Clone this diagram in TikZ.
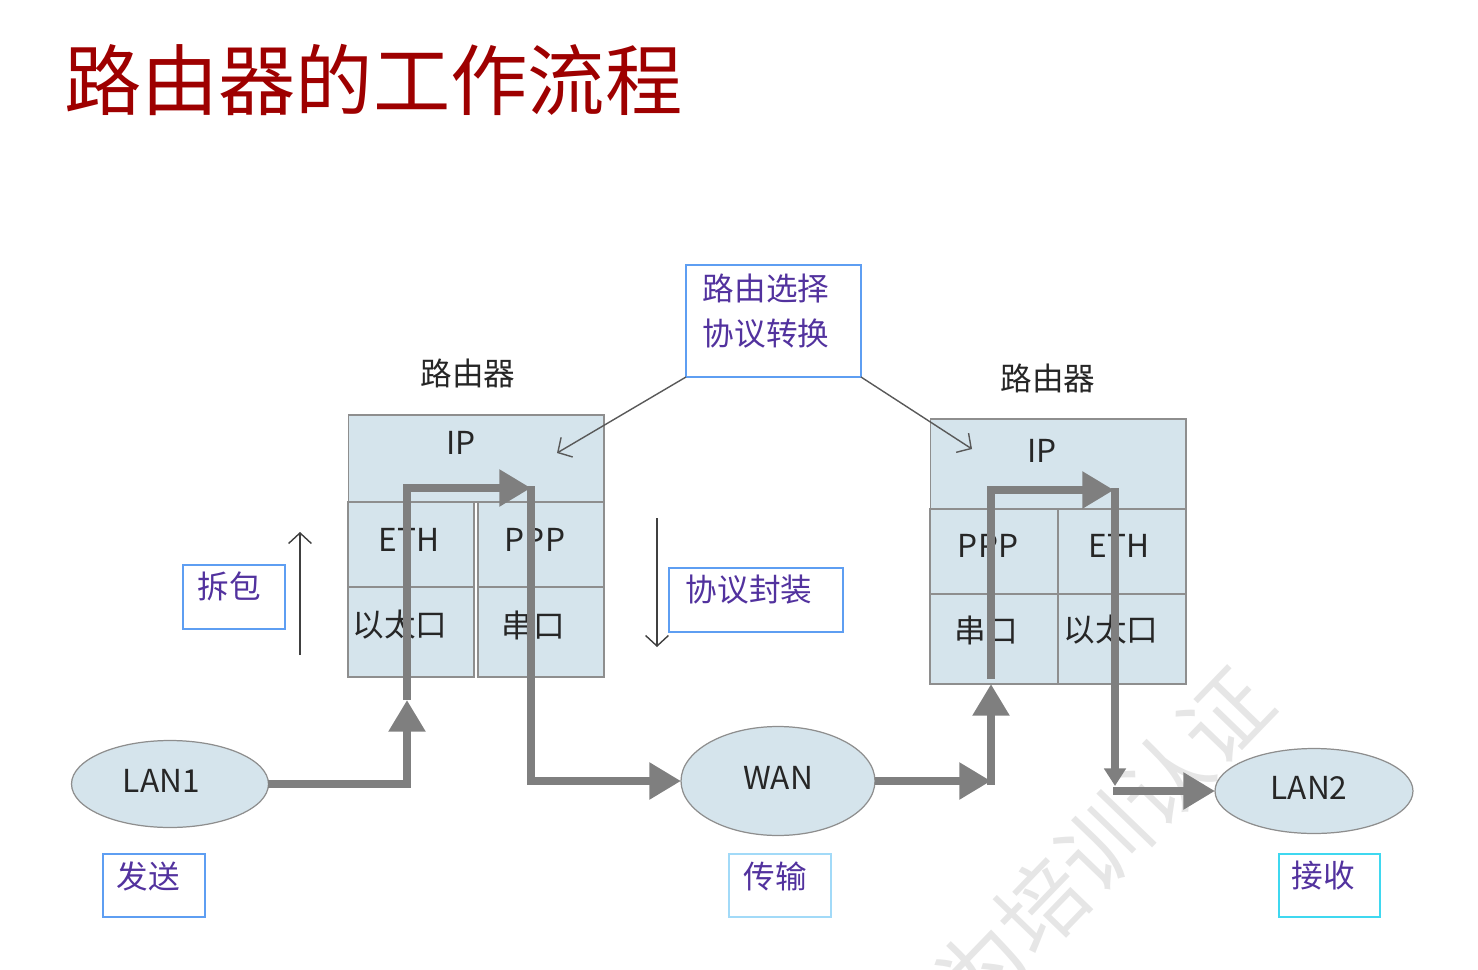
\documentclass[tikz,border=0pt]{standalone}
\usepackage{fontspec}
\setmainfont{Noto Sans CJK SC}
\usetikzlibrary{shapes.geometric,arrows.meta}
\definecolor{cellfill}{HTML}{D5E4EC}
\definecolor{cellline}{HTML}{8E8E8E}
\definecolor{flow}{HTML}{7F7F7F}
\definecolor{boxblue}{HTML}{5E9EF2}
\definecolor{boxcyanlight}{HTML}{A2DAF8}
\definecolor{boxcyan}{HTML}{3FD8F0}
\definecolor{purpletext}{HTML}{52329E}
\definecolor{titlered}{HTML}{9E0000}
\definecolor{bodytext}{HTML}{262626}
\definecolor{wm}{HTML}{E6E6E6}
\begin{document}
\begin{tikzpicture}[x=0.02cm,y=-0.02cm,
  every node/.style={inner sep=0pt,outer sep=0pt},
  cell/.style={draw=cellline,fill=cellfill,line width=0.6pt,rectangle},
  celltext/.style={text=bodytext,font=\fontsize{18}{22}\selectfont},
  lanshape/.style={ellipse,draw=cellline,fill=cellfill,line width=0.7pt,text=bodytext,font=\fontsize{18}{22}\selectfont},
  labelbox/.style={rectangle,draw=boxblue,line width=1pt,minimum width=2.04cm,minimum height=1.26cm},
  labeltext/.style={text=purpletext,font=\fontsize{18}{22}\selectfont},
  flowarrow/.style={draw=flow,line width=5.1pt,-{Triangle[length=18pt,width=20pt]}},
  flowline/.style={draw=flow,line width=5.1pt},
  flowsmall/.style={draw=flow,line width=5.1pt,-{Triangle[length=10pt,width=12pt]}},
  thinarrow/.style={draw=black!75,line width=0.8pt,-{Straight Barb[length=6pt,width=13pt]}},
]
\useasboundingbox (0,0) rectangle (1478,970);
\clip (0,0) rectangle (1478,970);

% watermark
\node[rotate=46,text=wm,font=\fontsize{50}{60}\selectfont] (watermark) at (1072,874) {华为培训认证};

% title
\node[anchor=west,text=titlered,font=\fontsize{44}{50}\selectfont] (title) at (64,80) {路由器的工作流程};

% left router
\node[cell,minimum width=5.12cm,minimum height=1.74cm] (ipL) at (476,458.5) {};
\node[cell,minimum width=2.52cm,minimum height=1.7cm] (ethL) at (411,544.5) {};
\node[cell,minimum width=2.52cm,minimum height=1.7cm] (pppL) at (541,544.5) {};
\node[cell,minimum width=2.52cm,minimum height=1.8cm] (portL) at (411,632) {};
\node[cell,minimum width=2.52cm,minimum height=1.8cm] (serL) at (541,632) {};
\node[celltext] (ipLt) at (461,443) {IP};
\node[celltext] (ethLt) at (409,540) {ETH};
\node[celltext] (pppLt) at (535,540) {PPP};
\node[celltext] (portLt) at (400,625) {以太口};
\node[celltext] (serLt) at (533,625) {串口};
\node[celltext] (routerL) at (468,373) {路由器};

% right router
\node[cell,minimum width=5.12cm,minimum height=1.8cm] (ipR) at (1058,464) {};
\node[cell,minimum width=2.56cm,minimum height=1.7cm] (pppR) at (994,551.5) {};
\node[cell,minimum width=2.56cm,minimum height=1.7cm] (ethR) at (1122,551.5) {};
\node[cell,minimum width=2.56cm,minimum height=1.8cm] (serR) at (994,639) {};
\node[cell,minimum width=2.56cm,minimum height=1.8cm] (portR) at (1122,639) {};
\node[celltext] (ipRt) at (1042,451) {IP};
\node[celltext] (pppRt) at (988,546) {PPP};
\node[celltext] (ethRt) at (1119,546) {ETH};
\node[celltext] (serRt) at (986,630) {串口};
\node[celltext] (portRt) at (1111,630) {以太口};
\node[celltext] (routerR) at (1048,378) {路由器};

% top box
\node[labelbox,minimum width=3.5cm,minimum height=2.24cm] (select) at (773.5,321) {};
\node[labeltext] (selectA) at (766,288) {路由选择};
\node[labeltext] (selectB) at (766,334) {协议转换};

% side boxes
\node[labelbox,minimum width=2.04cm,minimum height=1.28cm] (unpack) at (234,597) {};
\node[labeltext] (unpackt) at (229,586) {拆包};
\node[labelbox,minimum width=3.48cm,minimum height=1.28cm] (encap) at (756,600) {};
\node[labeltext] (encapt) at (749,590) {协议封装};

% bottom boxes
\node[labelbox] (send) at (154,885.5) {};
\node[labeltext] (sendt) at (148,876) {发送};
\node[labelbox,draw=boxcyanlight] (trans) at (780,885.5) {};
\node[labeltext] (transt) at (775,876) {传输};
\node[labelbox,draw=boxcyan,minimum width=2.02cm] (recv) at (1329.5,885.5) {};
\node[labeltext] (recvt) at (1323,876) {接收};

% networks
\node[lanshape,minimum width=3.94cm,minimum height=1.74cm] (lan1) at (170,784) {\hspace*{-0.35cm}\raisebox{0.12cm}{LAN1}};
\node[lanshape,minimum width=3.88cm,minimum height=2.18cm] (wan) at (778,781) {\raisebox{0.12cm}{WAN}};
\node[lanshape,minimum width=3.96cm,minimum height=1.7cm] (lan2) at (1314,791) {\hspace*{-0.2cm}\raisebox{0.12cm}{LAN2}};

% thin arrows
\coordinate (selL) at (557,453);
\coordinate (selR) at (972,449);
\draw[thinarrow,draw=black!65] (select.south west) -- (selL);
\draw[thinarrow,draw=black!65] (select.south east) -- (selR);
\coordinate (upA) at (300,655);
\coordinate (upB) at (300,532);
\draw[thinarrow] (upA) -- (upB);
\coordinate (downA) at (657,518);
\coordinate (downB) at (657,647);
\draw[thinarrow] (downA) -- (downB);

% flow left
\coordinate (a1) at (407,700);
\coordinate (c1) at (407,488);
\coordinate (c2) at (531,488);
\draw[flowarrow] (lan1.east) -| (a1);
\draw[flowline] (a1) -- (c1) -- ++(2,0);
\draw[flowarrow] (c1) -- (c2);
\draw[flowarrow] (531,486) |- (wan.west);

% flow right
\coordinate (b0) at (991,781);
\coordinate (b1) at (991,684);
\coordinate (b2) at (991,679);
\coordinate (b3) at (991,490);
\coordinate (b4) at (1114,490);
\coordinate (b5) at (1115,786);
\draw[flowarrow] (wan.east) -- (b0);
\draw[flowline] (b0) -- ++(0,4);
\draw[flowarrow] (b0) -- (b1);
\draw[flowline] (b2) -- (b3) -- ++(2,0);
\draw[flowarrow] (b3) -- (b4);
\draw[flowsmall] (1115,488) -- (b5);
\draw[flowarrow] (b5 |- lan2.west) ++(-2,0) -- (lan2.west);
\end{tikzpicture}
\end{document}
